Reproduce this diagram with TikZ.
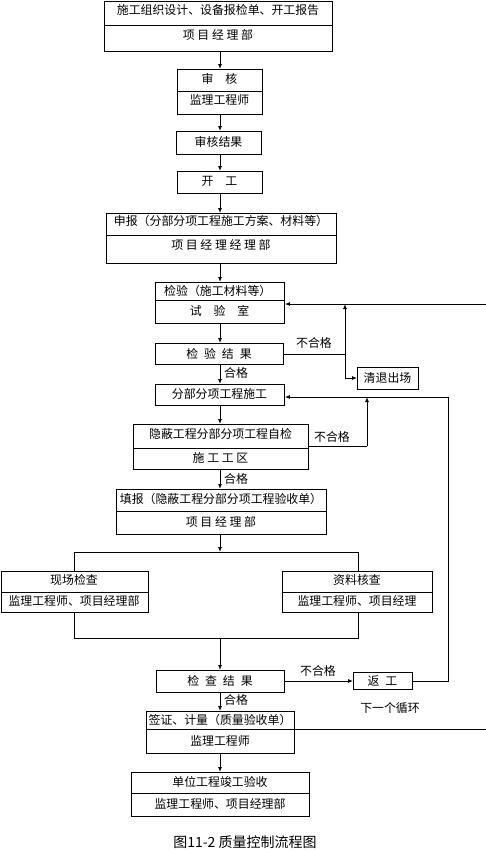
\documentclass[tikz,border=0pt]{standalone}
\usepackage{fontspec}
\setmainfont{Noto Sans CJK SC}
\usetikzlibrary{arrows.meta}
\begin{document}
\begin{tikzpicture}[x=1pt,y=-1pt,
  box/.style={draw, line width=0.9pt, inner sep=0pt, anchor=north west},
  txt/.style={inner sep=0pt, font=\fontsize{11.9}{12}\selectfont},
  lbl/.style={inner sep=0pt, font=\fontsize{11.9}{12}\selectfont},
  ln/.style={line width=0.9pt},
  arr/.style={line width=0.9pt, -{Latex[length=5pt,width=4pt]}}]
\useasboundingbox (0,0) rectangle (486,852);
% boxes
\node[box, minimum width=228pt, minimum height=50.5pt] (b1) at (104,0.5) {};
\draw[ln] (104,25) -- (332,25);
\node[txt] at (218,10) {施工组织设计、设备报检单、开工报告};
\node[txt] at (218,35) {项 目 经 理 部};

\node[box, minimum width=85pt, minimum height=45pt] (b2) at (177,69) {};
\draw[ln] (177,91) -- (262,91);
\node[txt] at (219.5,79) {审\quad 核};
\node[txt] at (219.5,100) {监理工程师};

\node[box, minimum width=85pt, minimum height=23pt] (b3) at (176,131) {};
\node[txt] at (218.5,142) {审核结果};

\node[box, minimum width=85pt, minimum height=22pt] (b4) at (177,171) {};
\node[txt] at (219.5,181) {开\quad 工};

\node[box, minimum width=230pt, minimum height=50pt] (b5) at (106,213) {};
\draw[ln] (106,235) -- (336,235);
\node[txt] at (221,221) {申报（分部分项工程施工方案、材料等）};
\node[txt] at (221,245) {项 目 经 理 经 理 部};

\node[box, minimum width=129pt, minimum height=41pt] (b6) at (155,282) {};
\draw[ln] (155,300) -- (284,300);
\node[txt, anchor=west] at (164,291) {检验（施工材料等）};
\node[txt] at (219.5,311) {试\quad 验\quad 室};

\node[box, minimum width=128pt, minimum height=21pt] (b7) at (155,343) {};
\node[txt] at (219,353.5) {检\enspace 验\enspace 结\enspace 果};

\node[box, minimum width=61pt, minimum height=22pt] (q) at (357,367) {};
\node[txt] at (387.5,378) {清退出场};

\node[box, minimum width=129pt, minimum height=21pt] (b8) at (155,384) {};
\node[txt] at (219.5,394) {分部分项工程施工};

\node[box, minimum width=175pt, minimum height=45pt] (b9) at (133,424) {};
\draw[ln] (133,448) -- (308,448);
\node[txt] at (220.5,434) {隐蔽工程分部分项工程自检};
\node[txt] at (220.5,458) {施 工 工 区};

\node[box, minimum width=210pt, minimum height=45pt] (b10) at (116,489) {};
\draw[ln] (116,511) -- (326,511);
\node[txt] at (221,499) {填报（隐蔽工程分部分项工程验收单）};
\node[txt] at (221,522) {项 目 经 理 部};

\node[box, minimum width=147pt, minimum height=41pt] (l) at (0.5,571) {};
\draw[ln] (0.5,592) -- (147.5,592);
\node[txt] at (74,580) {现场检查};
\node[txt] at (74,601) {监理工程师、项目经理部};

\node[box, minimum width=150pt, minimum height=41pt] (r) at (282,571) {};
\draw[ln] (282,592) -- (432,592);
\node[txt] at (357,580) {资料核查};
\node[txt] at (357,601) {监理工程师、项目经理};

\node[box, minimum width=128pt, minimum height=22pt] (c) at (156,670) {};
\node[txt] at (220,680.5) {检\enspace 查\enspace 结\enspace 果};

\node[box, minimum width=59pt, minimum height=17pt] (f) at (353,672) {};
\node[txt] at (382.5,680.5) {返\enspace 工};

\node[box, minimum width=148pt, minimum height=42pt] (s) at (146,711) {};
\draw[ln] (146,729) -- (294,729);
\node[txt] at (220,720) {签证、计量（质量验收单）};
\node[txt] at (220,741) {监理工程师};

\node[box, minimum width=178pt, minimum height=44pt] (u) at (131,772) {};
\draw[ln] (131,793) -- (309,793);
\node[txt] at (220,782) {单位工程竣工验收};
\node[txt] at (220,804) {监理工程师、项目经理部};

\node[inner sep=0pt, font=\fontsize{14}{15}\selectfont] (cap) at (245,842) {图11-2\ 质量控制流程图};

% main flow
\draw[arr] (b1.south -| 220,0) -- (b2.north -| 220,0);
\draw[arr] (b2.south -| 220,0) -- (b3.north -| 220,0);
\draw[arr] (b3.south -| 220,0) -- (b4.north -| 220,0);
\draw[arr] (b4.south -| 220,0) -- (b5.north -| 220,0);
\draw[arr] (b5.south -| 220,0) -- (b6.north -| 220,0);
\draw[arr] (b6.south -| 220,0) -- (b7.north -| 220,0);
\draw[arr] (b7.south -| 220,0) -- (b8.north -| 220,0);
\draw[arr] (b8.south -| 220,0) -- (b9.north -| 220,0);
\draw[arr] (b9.south -| 220,0) -- (b10.north -| 220,0);
\coordinate (j1) at (220,552);
\draw[arr] (b10.south -| 220,0) -- (j1);
\draw[ln] (l.north -| 74,0) -- (74,552) -- (358,552) -- (r.north -| 358,0);
\coordinate (j2) at (220,638);
\draw[ln] (l.south -| 74,0) -- (74,638) -- (358,638) -- (r.south -| 358,0);
\draw[arr] (j2) -- (c.north -| 220,0);
\draw[arr] (c.south -| 220,0) -- (s.north -| 220,0);
\draw[arr] (s.south -| 220,0) -- (u.north -| 220,0);

% labels on main flow
\node[lbl, anchor=west] at (224,373) {合格};
\node[lbl, anchor=west] at (224,479) {合格};
\node[lbl, anchor=west] at (224,700) {合格};

% loops
\coordinate (e1) at (486,304);
\draw[arr] (e1) -- (b6.east |- e1);
\draw[ln] (b7.east |- 0,354) -- (345,354);
\draw[arr] (345,378) -- (345,304);
\draw[arr] (345,378) -- (q.west |- 0,378);
\node[lbl] at (314,343) {不合格};

\draw[ln] (b9.east |- 0,446) -- (367,446);
\draw[arr] (367,446) -- (367,397);
\node[lbl] at (332,437) {不合格};

\draw[arr] (c.east |- 0,681) -- (f.west |- 0,681);
\node[lbl] at (318,671) {不合格};
\draw[arr] (f.east |- 0,681) -- (448,681) -- (448,397) -- (b8.east |- 0,397);
\node[lbl] at (390,708) {下一个循环};

\coordinate (e2) at (486,729);
\draw[ln] (s.east |- e2) -- (e2);
\end{tikzpicture}
\end{document}
